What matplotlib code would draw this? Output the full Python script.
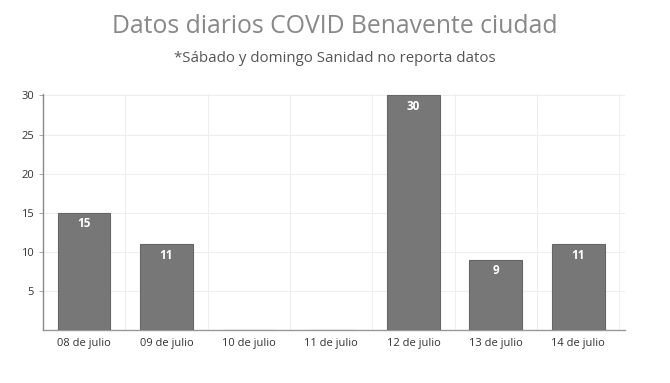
import matplotlib.pyplot as plt

dias = ['08 de julio', '09 de julio', '10 de julio', '11 de julio',
        '12 de julio', '13 de julio', '14 de julio']
casos = [15, 11, 0, 0, 30, 9, 11]
yticks = [5, 10, 15, 20, 25, 30]

plt.rcParams['font.family'] = ['Open Sans', 'DejaVu Sans']

fig = plt.figure(figsize=(6.7, 3.83), dpi=100)
ax = fig.add_axes([0.064, 0.138, 0.869, 0.617])

x = range(len(dias))
bars = ax.bar(x, casos, width=0.64, color='#777777', edgecolor='#666666',
              linewidth=0.8, zorder=3)
for xi, v in zip(x, casos):
    if v > 0:
        ax.text(xi, v - 0.6, str(v), ha='center', va='top', color='white',
                fontsize=8.5, fontweight='bold', zorder=4)

ax.set_xlim(-0.5, 6.57)
ax.set_ylim(0, 30.2)
ax.set_yticks(yticks)
ax.set_xticks(list(x))
ax.set_xticklabels(dias)
ax.tick_params(axis='both', labelsize=8, colors='#333333', length=3,
               width=0.6)
ax.tick_params(axis='x', length=0, pad=6)
ax.tick_params(axis='y', color='#999999')

# vertical gridlines between categories
ax.set_xticks([i + 0.5 for i in range(len(dias))], minor=True)
ax.grid(axis='x', which='minor', color='#eeeeee', linewidth=0.8, zorder=0)
ax.grid(axis='y', which='major', color='#eeeeee', linewidth=0.8, zorder=0)
ax.tick_params(axis='x', which='minor', length=0)

for s in ['top', 'right']:
    ax.spines[s].set_visible(False)
ax.spines['left'].set_color('#888888')
ax.spines['bottom'].set_color('#999999')
ax.spines['left'].set_linewidth(1)
ax.spines['bottom'].set_linewidth(1)

fig.text(0.5, 0.93, 'Datos diarios COVID Benavente ciudad', ha='center',
         va='center', fontsize=17.8, color='#888888')
fig.text(0.5, 0.848, '*Sábado y domingo Sanidad no reporta datos',
         ha='center', va='center', fontsize=10.8, color='#555555')

fig.savefig('out.png', dpi=100)
